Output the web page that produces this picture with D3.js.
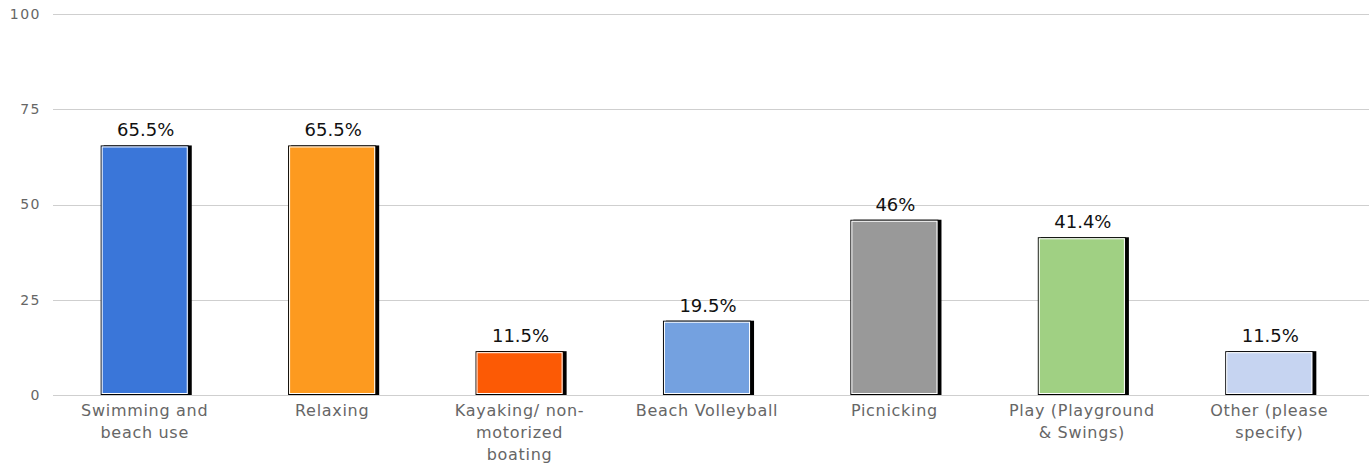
<html>
<head>
<script src="https://d3js.org/d3.v7.min.js"></script>
<style>
  body { margin: 0; background: #fff; }
  text { font-family: "DejaVu Sans", sans-serif; }
</style>
</head>
<body>
<script>
  // chart values
  var categories = ["Swimming and\nbeach use", "Relaxing", "Kayaking/ non-\nmotorized\nboating",
    "Beach Volleyball", "Picnicking", "Play (Playground\n& Swings)", "Other (please\nspecify)"];
  var values = [65.5, 65.5, 11.5, 19.5, 46, 41.4, 11.5];
  var valueLabels = ["65.5%", "65.5%", "11.5%", "19.5%", "46%", "41.4%", "11.5%"];
  var barColors = ["#3a76d9", "#fd9a1f", "#fc5a05", "#74a1e0", "#999999", "#a0d083", "#c6d4f1"];
  var yTicks = [0, 25, 50, 75, 100];

  var width = 1369, height = 466;
  var margin = { top: 14, right: 6, bottom: 71, left: 51 };

  var svg = d3.select("body").append("svg")
    .attr("width", width)
    .attr("height", height);

  var x = d3.scaleBand()
    .domain(categories)
    .range([margin.left, width - margin.right])
    .paddingInner(0.53)
    .paddingOuter(0.265);

  var y = d3.scaleLinear()
    .domain([0, 100])
    .range([height - margin.bottom, margin.top]);

  // gridlines
  svg.append("g")
    .selectAll("line")
    .data(yTicks)
    .enter()
    .append("line")
    .attr("x1", 53)
    .attr("x2", width)
    .attr("y1", function (d) { return Math.round(y(d)) + 0.5; })
    .attr("y2", function (d) { return Math.round(y(d)) + 0.5; })
    .style("stroke", "#cfcfcf")
    .style("stroke-width", 1);

  // y axis labels
  svg.append("g")
    .attr("transform", "translate(41,0)")
    .call(d3.axisLeft(y).tickValues(yTicks).tickSize(0).tickPadding(0))
    .call(function (g) { g.select(".domain").remove(); })
    .selectAll("text")
    .style("font-family", "DejaVu Sans, sans-serif")
    .style("font-size", "14px")
    .style("letter-spacing", "1.5px")
    .style("fill", "#666");

  var bars = svg.append("g")
    .selectAll("g")
    .data(values)
    .enter()
    .append("g");

  // black shadow on right side
  bars.append("rect")
    .attr("x", function (d, i) { return x(categories[i]) + 3; })
    .attr("y", function (d) { return y(d); })
    .attr("width", x.bandwidth())
    .attr("height", function (d) { return y(0) - y(d); })
    .style("fill", "#000");

  bars.append("rect")
    .attr("x", function (d, i) { return x(categories[i]) + 0.5; })
    .attr("y", function (d) { return y(d) + 0.5; })
    .attr("width", x.bandwidth() - 1)
    .attr("height", function (d) { return y(0) - y(d) - 1; })
    .style("fill", function (d, i) { return barColors[i]; })
    .style("stroke", "#000")
    .style("stroke-width", 1);

  bars.append("rect")
    .attr("x", function (d, i) { return x(categories[i]) + 1.5; })
    .attr("y", function (d) { return y(d) + 1.5; })
    .attr("width", x.bandwidth() - 3)
    .attr("height", function (d) { return y(0) - y(d) - 3; })
    .style("fill", "none")
    .style("stroke", "#fff")
    .style("stroke-width", 1);

  // value labels
  bars.append("text")
    .attr("x", function (d, i) { return x(categories[i]) + x.bandwidth() / 2 + 1; })
    .attr("y", function (d) { return y(d) - 9; })
    .attr("text-anchor", "middle")
    .style("font-size", "18px")
    .style("fill", "#111")
    .text(function (d, i) { return valueLabels[i]; });

  // category labels
  var cats = svg.append("g")
    .selectAll("text")
    .data(categories)
    .enter()
    .append("text")
    .attr("text-anchor", "middle")
    .style("font-size", "16px")
    .style("letter-spacing", "0.7px")
    .style("fill", "#666");

  cats.selectAll("tspan")
    .data(function (d) { return d.split("\n").map(function (t) { return { t: t, c: d }; }); })
    .enter()
    .append("tspan")
    .attr("x", function (d) { return x(d.c) + x.bandwidth() / 2; })
    .attr("y", function (d, i) { return 416 + i * 22; })
    .text(function (d) { return d.t; });
</script>
</body>
</html>
